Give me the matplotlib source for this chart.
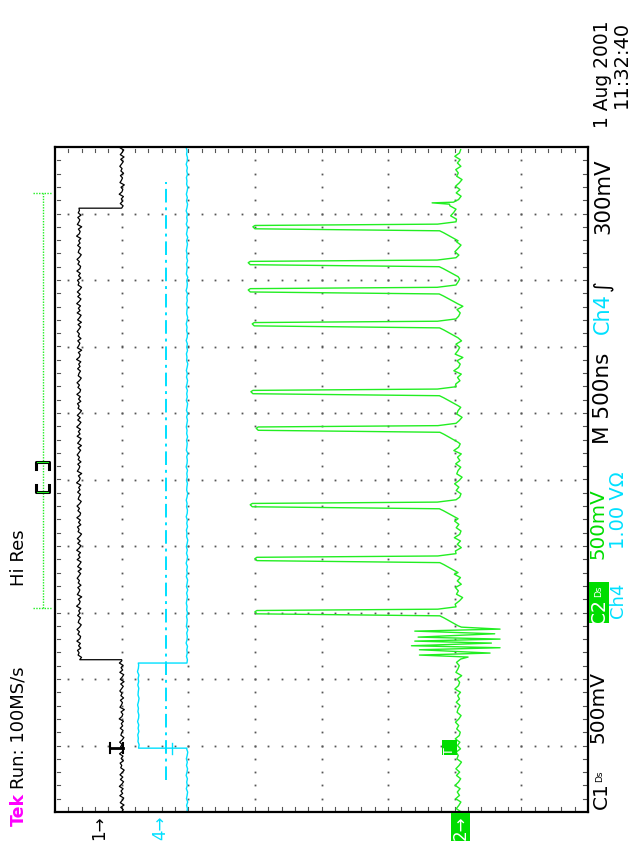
import matplotlib
matplotlib.use("Agg")
import matplotlib.pyplot as plt
from matplotlib.patches import Rectangle
import numpy as np

W, H = 639, 863

# screen units: x = vertical divisions counted from the left edge (0..8),
# y = time divisions counted from the bottom edge (0..10)
ch1_levels = [1.00, 0.36, 1.00]
ch1_edges = [2.29, 9.08]
ch1_marker = 0.96

ch4_levels = [1.98, 1.25, 1.98]
ch4_edges = [0.96, 2.24]
ch4_trig_level = 1.67
ch4_trig_span = [0.48, 9.47]

ch2_base = 6.05
pulse_times = [8.80, 8.26, 7.85, 7.34, 6.32, 5.77, 4.62, 3.81, 3.01]
pulse_depths = [2.97, 2.90, 2.90, 2.96, 2.94, 3.02, 2.93, 3.00, 3.00]
# outline of one pulse around its centre: time offset and fraction of full depth
pulse_dt = [-0.21, -0.09, -0.06, -0.03, 0.00, 0.02, 0.04, 0.075]
pulse_frac = [0.00, 0.07, 0.09, 0.99, 1.00, 0.99, 0.10, 0.01]

burst_t = [2.33, 2.36, 2.39, 2.44, 2.47, 2.50, 2.54, 2.57, 2.60, 2.63, 2.68, 2.72, 2.75, 2.78]
burst_v = [6.20, 5.47, 6.53, 5.47, 6.68, 5.35, 6.55, 5.40, 6.68, 5.45, 6.60, 5.40, 6.68, 6.10]

glitch_t = [9.14, 9.16, 9.17]
glitch_v = [5.92, 5.66, 5.98]

cursor_span = [3.07, 9.31]
view_marks = [4.81, 5.26]

jitter = [0.00, 0.55, -0.30, 0.80, -0.45, 0.20, 0.70, -0.60, 0.35, -0.20,
          0.50, -0.75, 0.10, 0.65, -0.40, 0.40, -0.55, 0.25, 0.85, -0.30,
          0.05, -0.50, 0.60, -0.15, 0.45, -0.70, 0.30, 0.55, -0.35, 0.15,
          -0.65, 0.20, 0.75, -0.25, 0.00, 0.50, -0.45, 0.35, -0.10, 0.60,
          -0.80, 0.10, 0.40, -0.20, 0.90, -0.55, -0.05, 0.30, -0.40, 0.65,
          -0.25, 0.15, -0.60]

GREEN = "#22ee22"
BOXGREEN = "#00dd00"
CYAN = "#00e0ff"

plt.rcParams["font.family"] = ["DejaVu Sans"]

fig = plt.figure(figsize=(W / 100, H / 100), dpi=100)
fig.patch.set_facecolor("white")
ax = fig.add_axes([55 / W, (H - 812) / H, 533 / W, 665 / H])
ax.set_xlim(0, 8)
ax.set_ylim(0, 10)
ax.set_xticks([])
ax.set_yticks([])
for sp in ax.spines.values():
    sp.set_linewidth(1.6)
    sp.set_color("black")

# graticule: dotted major lines plus short ticks on the frame
minor = np.arange(0.2, 10.0, 0.2)
for gx in range(1, 8):
    ax.plot([gx] * len(minor), minor, ls="none", marker="s", ms=1.3, color="#555", mew=0)
minor_x = np.arange(0.2, 8.0, 0.2)
for gy in range(1, 10):
    ax.plot(minor_x, [gy] * len(minor_x), ls="none", marker="s", ms=1.3, color="#555", mew=0)
for t in minor:
    ax.plot([0.03, 0.08], [t, t], color="#555", lw=0.8)
    ax.plot([7.92, 7.97], [t, t], color="#555", lw=0.8)
for v in minor_x:
    ax.plot([v, v], [0.03, 0.08], color="#555", lw=0.8)
    ax.plot([v, v], [9.92, 9.97], color="#555", lw=0.8)


def flat(t0, t1, level, amp, k, step=0.05):
    ts = list(np.arange(t0, t1, step))
    vs = [level + amp * jitter[(k + i) % len(jitter)] for i in range(len(ts))]
    return ts, vs


def stepped(levels, edges, amp, step):
    ts, vs = [], []
    bounds = [0.0] + edges + [10.0]
    for i, lv in enumerate(levels):
        a, b = flat(bounds[i], bounds[i + 1], lv, amp, 17 * i, step)
        ts += a + [bounds[i + 1]]
        vs += b + [lv]
    return ts, vs


# channel 1 (black)
t1, v1 = stepped(ch1_levels, ch1_edges, 0.045, 0.035)
ax.plot(v1, t1, color="black", lw=0.9)
ax.plot([0.83, 1.02], [ch1_marker, ch1_marker], color="black", lw=2.0)
ax.plot([0.83, 0.83], [ch1_marker - 0.08, ch1_marker + 0.08], color="black", lw=1.5)
ax.plot([1.02, 1.02], [ch1_marker - 0.08, ch1_marker + 0.08], color="black", lw=1.5)

# channel 4 (cyan) and its trigger level
t4, v4 = stepped(ch4_levels, ch4_edges, 0.015, 0.05)
ax.plot(v4, t4, color=CYAN, lw=1.0)
ax.plot([ch4_trig_level] * 2, ch4_trig_span, color=CYAN, lw=1.4, ls=(0, (7, 2.5, 1.5, 2.5)))
ax.plot([1.76, 1.76], [ch4_edges[0] - 0.09, ch4_edges[0] + 0.08], color=CYAN, lw=1.0)

# channel 2 (green)
g_t, g_v = [], []
a, b = flat(0.0, burst_t[0], ch2_base, 0.06, 3)
g_t += a + burst_t
g_v += b + burst_v
cursor = burst_t[-1] + 0.03
k = 11
for tc, depth in sorted(zip(pulse_times, pulse_depths)):
    a, b = flat(cursor, tc + pulse_dt[0], ch2_base, 0.08, k)
    g_t += a
    g_v += b
    g_t += [tc + d for d in pulse_dt]
    g_v += [ch2_base - f * (ch2_base - depth) for f in pulse_frac]
    cursor = tc + pulse_dt[-1] + 0.04
    k += 5
a, b = flat(cursor, glitch_t[0], ch2_base - 0.08, 0.07, k)
g_t += a + glitch_t
g_v += b + glitch_v
a, b = flat(glitch_t[-1] + 0.04, 10.0, ch2_base, 0.07, k + 9)
g_t += a
g_v += b
ax.plot(g_v, g_t, color=GREEN, lw=1.0)

# record cursor and view window to the left of the screen
ax.plot([-0.18, -0.18], cursor_span, color=GREEN, lw=1.0, ls=(0, (1, 1)), clip_on=False)
for t in cursor_span:
    ax.plot([-0.33, -0.05], [t, t], color=GREEN, lw=1.0, ls=(0, (1, 1)), clip_on=False)
for t, s in zip(view_marks, [1, -1]):
    ax.plot([-0.29, -0.29, -0.09, -0.09], [t + 0.1 * s, t, t, t + 0.1 * s],
            color="black", lw=2.2, clip_on=False)
    ax.plot([-0.27, -0.11], [t, t], color=GREEN, lw=0.8, clip_on=False)


def vtext(x, y, s, size, color="black", **kw):
    fig.text(x / W, 1 - y / H, s, rotation=90, ha="center", va="bottom",
             fontsize=size, color=color, **kw)


def box(x0, y0, x1, y1):
    fig.patches.append(Rectangle((x0 / W, 1 - y1 / H), (x1 - x0) / W, (y1 - y0) / H,
                                 transform=fig.transFigure, fc=BOXGREEN, ec="none"))


vtext(18.5, 826, "Tek", 12.5, "#ff00ff", fontweight="bold")
vtext(18.5, 789, "Run: 100MS/s", 13)
vtext(18.5, 586, "Hi Res", 13)
vtext(99, 840, "1→", 12)
vtext(160, 840, "4→", 12, CYAN)
box(451, 813, 470, 841)
vtext(461, 840, "2→", 12, "white")
box(442, 740, 457, 755)
vtext(450, 755, "T", 9, "white")

vtext(601, 809, "C1", 14.5)
vtext(600, 782, "Ds", 6.5)
vtext(598, 743, "500mV", 14.5)
box(589, 582, 609, 623)
vtext(600, 624, "C2", 13.5, "white")
vtext(599, 597, "Ds", 6.5, "white")
vtext(618, 618, "Ch4", 13, CYAN)
vtext(598, 559, "500mV", 14.3, BOXGREEN)
vtext(618, 549, "1.00 VΩ", 14, CYAN)
vtext(603, 444, "M 500ns", 15.5)
vtext(603, 334, "Ch4", 15, CYAN)
vtext(603, 291, "∫", 15)
vtext(603, 234, "300mV", 15.3)
vtext(603, 128, "1 Aug 2001", 13.4)
vtext(621, 108, "11:32:40", 14)

fig.savefig("out.png", dpi=100, facecolor="white")
